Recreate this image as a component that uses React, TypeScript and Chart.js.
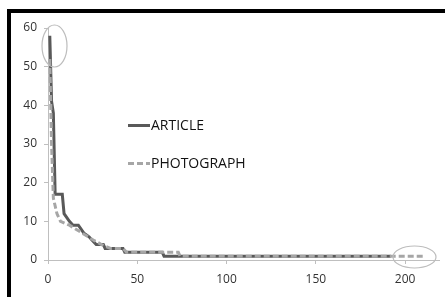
import React, { useEffect, useRef } from "react";
import { Chart, registerables } from "chart.js";

Chart.register(...registerables);

const seriesNames = ["ARTICLE", "PHOTOGRAPH"];
const articleX = [1, 2, 3, 4, 8, 9, 12, 14, 17, 20, 23, 25, 27, 31, 32, 42, 43, 64, 65, 192];
const articleY = [58, 41, 38, 17, 17, 12, 10, 9, 9, 7, 6, 5, 4, 4, 3, 3, 2, 2, 1, 1];
const photoX = [1, 2, 3, 5, 7, 12, 19, 26, 30, 35, 42, 44, 73, 74, 210];
const photoY = [52, 30, 16, 12, 10, 9, 7, 5, 4, 3, 3, 2, 2, 1, 1];
const xTicks = [0, 50, 100, 150, 200];
const yTicks = [0, 10, 20, 30, 40, 50, 60];

const AXIS = "#BFBFBF";
const TEXT = "#333333";

const decorPlugin = {
  id: "decor",
  afterDraw(chart: any) {
    const ctx = chart.ctx;
    ctx.save();
    // frame
    ctx.fillStyle = "#000";
    ctx.fillRect(7, 9, 438, 4);
    ctx.fillRect(7, 9, 4, 288);
    // ellipses
    ctx.strokeStyle = "#BDBDBD";
    ctx.lineWidth = 1.2;
    ctx.beginPath();
    ctx.ellipse(54.5, 46, 12.5, 21, 0, 0, Math.PI * 2);
    ctx.stroke();
    ctx.beginPath();
    ctx.ellipse(414.5, 257, 21.5, 11, 0, 0, Math.PI * 2);
    ctx.stroke();
    // legend
    ctx.lineWidth = 3;
    ctx.strokeStyle = "#595959";
    ctx.setLineDash([]);
    ctx.beginPath();
    ctx.moveTo(128, 125.5);
    ctx.lineTo(150, 125.5);
    ctx.stroke();
    ctx.strokeStyle = "#A6A6A6";
    ctx.setLineDash([6, 3]);
    ctx.beginPath();
    ctx.moveTo(128, 163.5);
    ctx.lineTo(150, 163.5);
    ctx.stroke();
    ctx.setLineDash([]);
    ctx.fillStyle = "#111111";
    ctx.font = "14px 'Open Sans'";
    ctx.textBaseline = "middle";
    ctx.textAlign = "left";
    ctx.fillText(seriesNames[0], 151, 126);
    ctx.fillText(seriesNames[1], 151, 164);
    ctx.restore();
  },
};

export default function App() {
  const ref = useRef<HTMLCanvasElement>(null);
  useEffect(() => {
    if (!ref.current) return;
    const chart = new Chart(ref.current, {
      type: "line",
      data: {
        datasets: [
          {
            label: seriesNames[0],
            data: articleX.map((x, i) => ({ x, y: articleY[i] })),
            borderColor: "#595959",
            borderWidth: 3,
            pointRadius: 0,
            tension: 0,
            order: 2,
          },
          {
            label: seriesNames[1],
            data: photoX.map((x, i) => ({ x, y: photoY[i] })),
            borderColor: "#A6A6A6",
            borderWidth: 3,
            borderDash: [6, 3],
            pointRadius: 0,
            tension: 0,
            order: 1,
          },
        ],
      },
      plugins: [decorPlugin],
      options: {
        animation: false,
        responsive: false,
        devicePixelRatio: 1,
        layout: { padding: { left: 0, top: 28, right: 6, bottom: 0 } },
        plugins: { legend: { display: false }, tooltip: { enabled: false } },
        scales: {
          x: {
            type: "linear",
            min: 0,
            max: 219,
            afterFit: (s: any) => {
              s.height = 37;
            },
            afterBuildTicks: (s: any) => {
              s.ticks = xTicks.map((v) => ({ value: v }));
            },
            ticks: { color: TEXT, font: { family: "'Open Sans'", size: 12 }, padding: 8, maxRotation: 0 },
            grid: { display: true, drawOnChartArea: false, drawTicks: true, tickLength: 4, color: AXIS },
            border: { display: true, color: AXIS, width: 1 },
          },
          y: {
            type: "linear",
            min: 0,
            max: 60,
            afterFit: (s: any) => {
              s.width = 48;
            },
            afterBuildTicks: (s: any) => {
              s.ticks = yTicks.map((v) => ({ value: v }));
            },
            ticks: { color: TEXT, font: { family: "'Open Sans'", size: 12 }, padding: 7 },
            grid: { display: true, drawOnChartArea: false, drawTicks: true, tickLength: 4, color: AXIS },
            border: { display: true, color: AXIS, width: 1 },
          },
        },
      },
    });
    return () => chart.destroy();
  }, []);
  return (
    <div style={{ position: "fixed", left: 0, top: 0, width: 445, height: 297, background: "#fff" }}>
      <canvas ref={ref} width={445} height={297} style={{ display: "block" }} />
    </div>
  );
}
